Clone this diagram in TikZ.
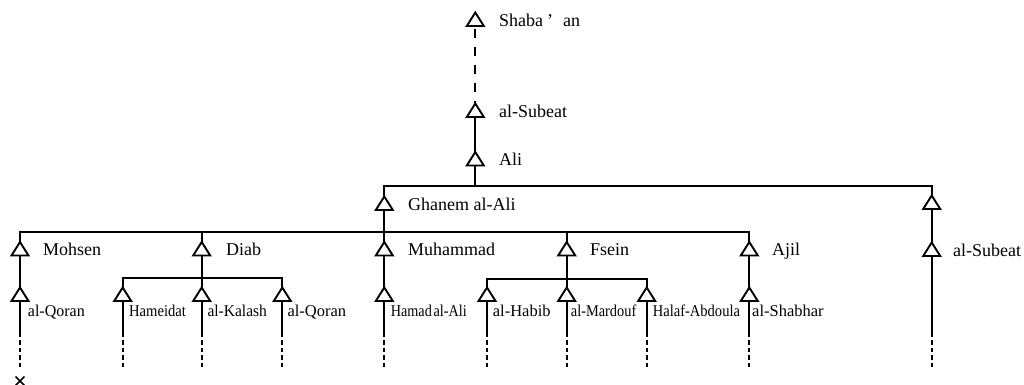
\documentclass[tikz,border=0pt]{standalone}
\usepackage{fontspec}
\setmainfont{Liberation Serif}
\usetikzlibrary{shapes.geometric}
\tikzset{
  ln/.style={line width=2pt},
  tri/.style={isosceles triangle, isosceles triangle stretches, shape border rotate=90,
    minimum width=17pt, minimum height=13.5pt, inner sep=0pt, outer sep=0pt,
    anchor=apex},
  triline/.style={line width=1.9pt, fill=white, line join=miter},
  biglab/.style={anchor=base west, inner sep=0pt, font=\fontsize{18}{20}\selectfont},
  smalllab/.style={anchor=base west, inner sep=0pt, font=\fontsize{16.5}{18}\selectfont},
  topdash/.style={ln, dash pattern=on 9pt off 9pt, dash phase=15pt},
  leafdots/.style={ln, dash pattern=on 4.5pt off 3pt, dash phase=4.5pt},
}
\begin{document}
\begin{tikzpicture}[x=1pt,y=-1pt]
\useasboundingbox (0,0) rectangle (1024,385);
% coordinates of bars
\coordinate (bar1) at (475.3,186);
\coordinate (bar2) at (384.3,232);
\coordinate (bar3) at (201.7,278);
\coordinate (bar4) at (566.7,279);
% leaf end coordinates
\foreach \n/\x in {eQoran/20, eHameidat/122.7, eKalash/201.7, eQoranB/282.3, eHamad/384.3,
  eHabib/487, eMardouf/566.7, eHalaf/646.7, eShabhar/749.3, eRS/931.7} {
  \coordinate (\n) at (\x,337);
  \coordinate (\n d) at (\x,367);
}
\coordinate (crossc) at (20,381);

% triangle nodes (outlines drawn after the connectors)
\node[tri] (tShaba) at (475.3,12.5) {};
\node[tri] (tSubA) at (475.3,103.5) {};
\node[tri] (tAli) at (475.3,152) {};
\node[tri] (tGhanem) at (384.3,196.5) {};
\node[tri] (tRS1) at (931.7,195.5) {};
\node[tri] (tMohsen) at (20,242) {};
\node[tri] (tDiab) at (201.7,242) {};
\node[tri] (tMuhammad) at (384.3,242) {};
\node[tri] (tFsein) at (566.7,242) {};
\node[tri] (tAjil) at (749.3,242) {};
\node[tri] (tRS2) at (931.7,242.5) {};
\node[tri] (tQoran) at (20,287.5) {};
\node[tri] (tHameidat) at (122.7,287.5) {};
\node[tri] (tKalash) at (201.7,287.5) {};
\node[tri] (tQoranB) at (282.3,287.5) {};
\node[tri] (tHamad) at (384.3,287.5) {};
\node[tri] (tHabib) at (487,287.5) {};
\node[tri] (tMardouf) at (566.7,287.5) {};
\node[tri] (tHalaf) at (646.7,287.5) {};
\node[tri] (tShabhar) at (749.3,287.5) {};

% connectors
\draw[topdash] (tShaba.lower side) -- (tSubA.apex);
\draw[ln] (tSubA.lower side) -- (tAli.apex);
\draw[ln] (tAli.lower side) -- (bar1);
\draw[ln] (tGhanem.apex) -- (tGhanem.apex |- bar1) -- (tRS1.apex |- bar1) -- (tRS1.apex);
\draw[ln] (tGhanem.lower side) -- (tMuhammad.apex);
\draw[ln] (tMohsen.apex) -- (tMohsen.apex |- bar2) -- (tAjil.apex |- bar2) -- (tAjil.apex);
\draw[ln] (tDiab.apex |- bar2) -- (tDiab.apex);
\draw[ln] (tFsein.apex |- bar2) -- (tFsein.apex);
\draw[ln] (tRS1.lower side) -- (tRS2.apex);
\draw[ln] (tMohsen.lower side) -- (tQoran.apex);
\draw[ln] (tDiab.lower side) -- (tKalash.apex);
\draw[ln] (tHameidat.apex) -- (tHameidat.apex |- bar3) -- (tQoranB.apex |- bar3) -- (tQoranB.apex);
\draw[ln] (tMuhammad.lower side) -- (tHamad.apex);
\draw[ln] (tFsein.lower side) -- (tMardouf.apex);
\draw[ln] (tHabib.apex) -- (tHabib.apex |- bar4) -- (tHalaf.apex |- bar4) -- (tHalaf.apex);
\draw[ln] (tAjil.lower side) -- (tShabhar.apex);
\foreach \t/\e in {tQoran/eQoran, tHameidat/eHameidat, tKalash/eKalash, tQoranB/eQoranB,
  tHamad/eHamad, tHabib/eHabib, tMardouf/eMardouf, tHalaf/eHalaf, tShabhar/eShabhar, tRS2/eRS} {
  \draw[ln] (\t.lower side) -- (\e);
  \draw[leafdots] (\e) -- (\e d);
}
\draw[line width=1.7pt] ([shift={(-4.5,-4.5)}]crossc) -- ([shift={(4.5,4.5)}]crossc)
  ([shift={(-4.5,4.5)}]crossc) -- ([shift={(4.5,-4.5)}]crossc);

% triangle outlines on top of the lines
\foreach \t in {tShaba,tSubA,tAli,tGhanem,tRS1,tMohsen,tDiab,tMuhammad,tFsein,tAjil,tRS2,
  tQoran,tHameidat,tKalash,tQoranB,tHamad,tHabib,tMardouf,tHalaf,tShabhar} {
  \draw[triline] (\t.apex) -- (\t.left corner) -- (\t.right corner) -- cycle;
}

% labels
\node[biglab] (lShaba) at (499,26.5) {Shaba\hspace{4pt}’\hspace{10pt}an};
\node[biglab] (lSubA) at (499,117.5) {al-Subeat};
\node[biglab] (lAli) at (499,165) {Ali};
\node[biglab] (lGhanem) at (408,210) {Ghanem al-Ali};
\node[biglab] (lMohsen) at (43,255) {Mohsen};
\node[biglab] (lDiab) at (226,255) {Diab};
\node[biglab] (lMuhammad) at (408,255) {Muhammad};
\node[biglab] (lFsein) at (590,255) {Fsein};
\node[biglab] (lAjil) at (772,255) {Ajil};
\node[biglab] (lRS) at (953,256) {al-Subeat};

\node[smalllab] (lQoran) at (27.7,316) {\scalebox{0.97}[1]{al-Qoran}};
\node[smalllab] (lHameidat) at (129,316) {\scalebox{0.885}[1]{Hameidat}};
\node[smalllab] (lKalash) at (207.3,316) {\scalebox{0.94}[1]{al-Kalash}};
\node[smalllab] (lQoranB) at (287.3,316) {\scalebox{1.0}[1]{al-Qoran}};
\node[smalllab] (lHamad) at (390.7,316) {\scalebox{0.86}[1]{Hamad\hspace{2pt}al-Ali}};
\node[smalllab] (lHabib) at (492.7,316) {\scalebox{1.0}[1]{al-Habib}};
\node[smalllab] (lMardouf) at (570.7,316) {\scalebox{0.87}[1]{al-Mardouf}};
\node[smalllab] (lHalaf) at (652.7,316) {\scalebox{0.88}[1]{Halaf-Abdoula}};
\node[smalllab] (lShabhar) at (752,316) {\scalebox{1.0}[1]{al-Shabhar}};
\end{tikzpicture}
\end{document}
